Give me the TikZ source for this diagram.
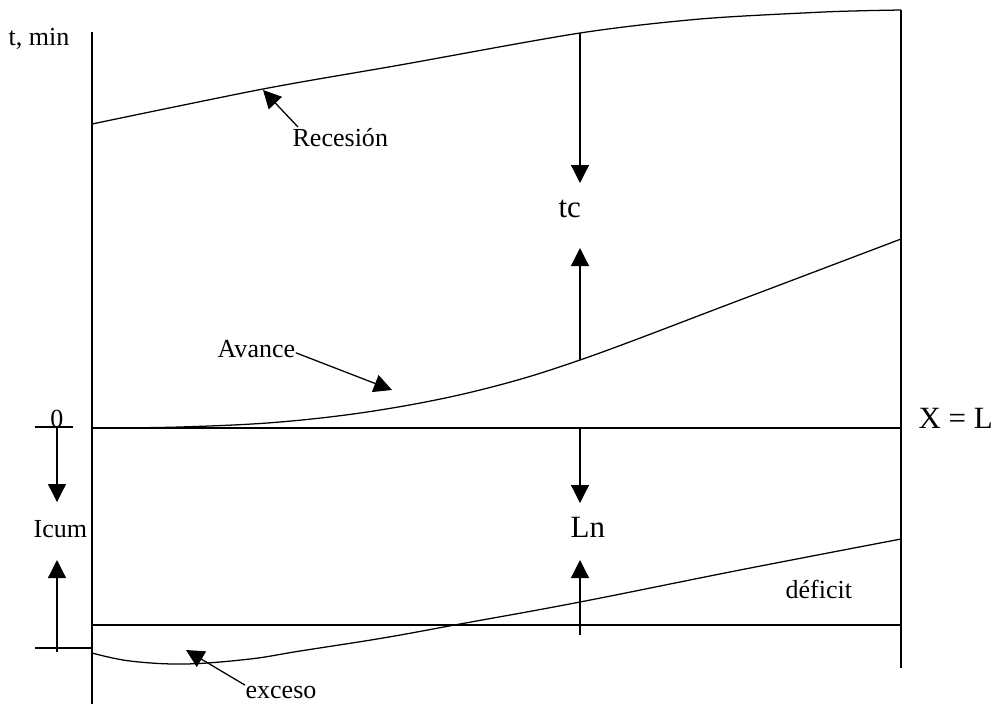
\documentclass[tikz,border=0pt]{standalone}
\usepackage{fontspec}
\setmainfont{Liberation Serif}
\usetikzlibrary{arrows.meta}
\begin{document}
\begin{tikzpicture}[x=0.025cm,y=-0.025cm,line width=0.9pt,
    lbl/.style={inner sep=0pt,font=\fontsize{18.5}{22}\selectfont},
    biglbl/.style={inner sep=0pt,font=\fontsize{22}{26}\selectfont},
    pointer/.style={-{Triangle[width=0.45cm,length=0.45cm]}}]
        \useasboundingbox (0,0) rectangle (997,706);
        % axes and reference lines
        \draw (92,32) -- (92,704);
        \draw (901,10) -- (901,668);
        \draw (92,428) -- (901,428);
        \draw (92,625) -- (901,625);
        \draw (35,427) -- (73,427);
        \draw (35,648) -- (92,648);
        % curves
        \draw plot[smooth,tension=0.5] coordinates {(92,124) (263,89) (400,65)
            (580,33) (700,19) (813,12.5) (860,10.8) (901,10)};
        \draw plot[smooth,tension=0.6] coordinates {(92,428) (180,427) (280,422)
            (380,410) (480,390) (580,360) (740,300) (901,239)};
        \draw plot[smooth,tension=0.6] coordinates {(92,653) (130,661) (185,664)
            (250,659) (300,651) (383,638) (460,624) (580,602) (740,570) (901,539)};
        % labels
        \node[lbl,anchor=base west] (tmin) at (8,45) {t, min};
        \node[lbl,anchor=base west] (rec) at (292,146) {Recesión};
        \node[lbl,anchor=base west] (av) at (217,357) {Avance};
        \node[lbl,anchor=base west] (exc) at (245,698) {exceso};
        \node[lbl,anchor=base west] (def) at (785,598) {déficit};
        \node[lbl,anchor=base west] (icum) at (33,537) {Icum};
        \node[lbl,anchor=base] (zero) at (57,427) {0};
        \node[biglbl,anchor=base west] (tc) at (558,217) {tc};
        \node[biglbl,anchor=base west] (ln) at (570,537) {Ln};
        \node[biglbl,anchor=base west] (xl) at (918,428) {X = L};
        % pointers to the curves
        \coordinate (rectail) at (298,127);
        \coordinate (rectip) at (263,90);
        \coordinate (avtip) at (392,390);
        \coordinate (exctip) at (186,650);
        \draw[pointer] (rectail) -- (rectip);
        \draw[pointer] ([yshift=-3pt]av.east) -- (avtip);
        \draw[pointer] (exc.north west) -- (exctip);
        % tc
        \coordinate (tctop) at (580,33);
        \coordinate (tcdown) at (580,183);
        \coordinate (tcbot) at (580,360);
        \coordinate (tcup) at (580,248);
        \draw[pointer] (tctop) -- (tcdown);
        \draw[pointer] (tcbot) -- (tcup);
        % Ln
        \coordinate (lntop) at (580,428);
        \coordinate (lndown) at (580,503);
        \coordinate (lnbot) at (580,635);
        \coordinate (lnup) at (580,560);
        \draw[pointer] (lntop) -- (lndown);
        \draw[pointer] (lnbot) -- (lnup);
        % Icum
        \coordinate (ictop) at (57,428);
        \coordinate (icdown) at (57,502);
        \coordinate (icbot) at (57,652);
        \coordinate (icup) at (57,560);
        \draw[pointer] (ictop) -- (icdown);
        \draw[pointer] (icbot) -- (icup);
\end{tikzpicture}
\end{document}
